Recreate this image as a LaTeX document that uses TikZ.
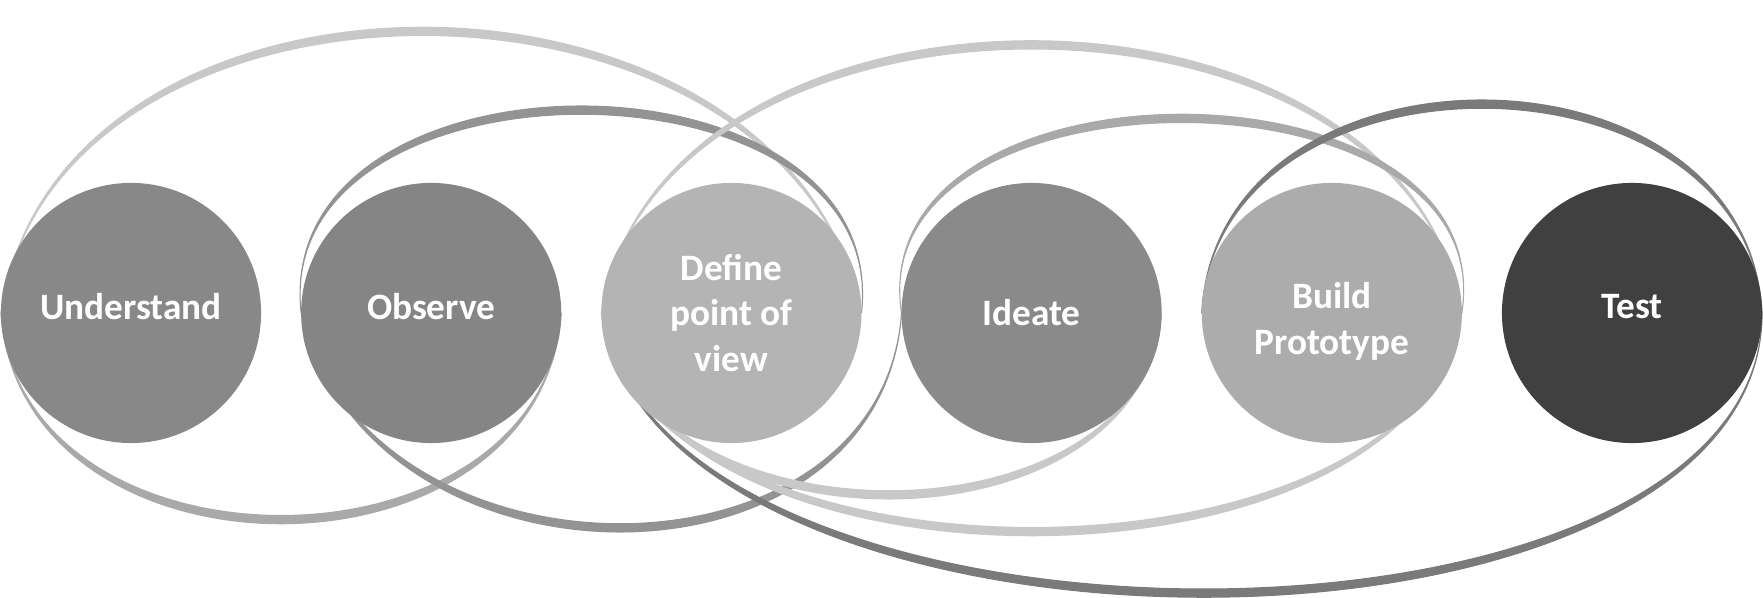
\documentclass[tikz,border=0pt]{standalone}
\usepackage{fontspec}
\setmainfont{Carlito}
\usetikzlibrary{backgrounds}

\definecolor{loopone}{HTML}{C8C8C8}
\definecolor{looptwo}{HTML}{A9A9A9}
\definecolor{loopthree}{HTML}{939393}
\definecolor{loopfour}{HTML}{7A7A7A}

\begin{document}
\begin{tikzpicture}[x=0.01cm, y=-0.01cm,
    phase/.style={circle, minimum size=2.6cm, inner sep=0pt, outer sep=0pt,
      align=center, text=white, font=\fontsize{10.6}{13}\selectfont\bfseries},
    lifted/.style={text depth=4pt},
    band/.style={line width=0.3pt}]
      \useasboundingbox (0,0) rectangle (1763,598);
      \node[phase, lifted, fill={rgb,255:red,136;green,136;blue,136}] (und) at (131,313) {Understand};
      \node[phase, lifted, fill={rgb,255:red,133;green,133;blue,133}] (obs) at (431.2,313) {Observe};
      \node[phase, fill={rgb,255:red,180;green,180;blue,180}] (def) at (731.4,313) {Define\\point of\\view};
      \node[phase, fill={rgb,255:red,138;green,138;blue,138}] (ide) at (1031.6,313) {Ideate};
      \node[phase, fill={rgb,255:red,172;green,172;blue,172}] (bld) at (1331.8,313) {\rule{0pt}{12pt}Build\\Prototype};
      \node[phase, lifted, fill={rgb,255:red,64;green,64;blue,64}] (tst) at (1632,313) {Test};
      \begin{scope}[on background layer]
      % loops over the top
      \filldraw[band, loopone] (und.west) .. controls +(55,-381) and +(-77,-381) .. (def.east)
            .. controls +(-77,-370) and +(55,-370) .. (und.west);
      \filldraw[band, loopthree] (obs.west) .. controls +(-30,-276) and +(30,-276) .. (def.east)
            .. controls +(30,-265) and +(-30,-265) .. (obs.west);
      \filldraw[band, loopone] (def.west) .. controls +(60,-363) and +(-60,-363) .. (bld.east)
            .. controls +(-60,-352) and +(60,-352) .. (def.west);
      \filldraw[band, looptwo] (ide.west) .. controls +(-40,-265) and +(40,-265) .. (bld.east)
            .. controls +(40,-254) and +(-40,-254) .. (ide.west);
      \filldraw[band, loopfour] (bld.west) .. controls +(15,-284) and +(-15,-284) .. (tst.east)
            .. controls +(-15,-273) and +(15,-273) .. (bld.west);
      % loops underneath
      \filldraw[band, looptwo] (und.west) .. controls +(20,281) and +(-20,281) .. (obs.east)
            .. controls +(-20,270) and +(20,270) .. (und.west);
      \filldraw[band, loopthree] (obs.west) .. controls +(70,292) and +(-20,292) .. (ide.west)
            .. controls +(-20,281) and +(70,281) .. (obs.west);
      \filldraw[band, loopfour] (def.west) .. controls +(59,379) and +(0,379) .. (tst.east)
            .. controls +(0,368) and +(59,368) .. (def.west);
      \filldraw[band, loopone] (def.west) .. controls +(40,248) and +(-20,248) .. (ide.east)
            .. controls +(-20,237) and +(40,237) .. (def.west);
      \filldraw[band, loopone] (def.west) .. controls +(50,297) and +(-50,297) .. (bld.east)
            .. controls +(-50,286) and +(50,286) .. (def.west);
      \end{scope}
\end{tikzpicture}
\end{document}
